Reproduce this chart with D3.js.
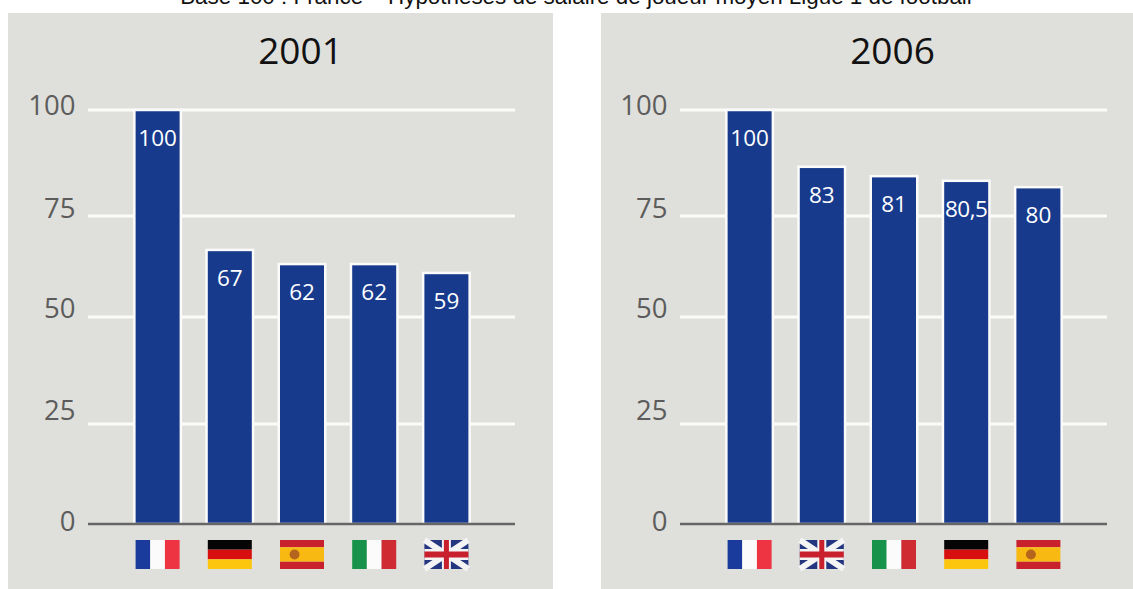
<!DOCTYPE html>
<html><head><meta charset="utf-8">
<script src="https://cdn.jsdelivr.net/npm/d3@7"></script>
<style>html,body{margin:0;background:#fff}svg{display:block}text{font-family:"Open Sans",sans-serif}</style>
</head><body><svg id="c" width="1133" height="589"></svg>
<script>
const heading = "Base 100 : France – Hypothèses de salaire de joueur moyen Ligue 1 de football";
const years = ["2001", "2006"];
const ticks = [0, 25, 50, 75, 100];
const countries2001 = ["fr", "de", "es", "it", "uk"];
const heights2001 = [100, 66.6, 63.1, 63.1, 60.9];
const labels2001 = ["100", "67", "62", "62", "59"];
const countries2006 = ["fr", "uk", "it", "de", "es"];
const heights2006 = [100, 86.6, 84.4, 83.3, 81.8];
const labels2006 = ["100", "83", "81", "80,5", "80"];

const svg = d3.select("#c");
svg.append("text").attr("x", 576).attr("y", 4).attr("text-anchor", "middle")
  .style("font-family", '"Liberation Sans",Arial,sans-serif').style("font-size", "22.4px").attr("fill", "#111").text(heading);

function flag(g, code, w, h) {
  const stripesV = (cols) => cols.forEach((c, i) => g.append("rect").attr("x", i * w / 3).attr("width", w / 3).attr("height", h).attr("fill", c));
  const stripesH = (cols, fr) => { let y = 0; cols.forEach((c, i) => { g.append("rect").attr("y", y).attr("width", w).attr("height", fr[i] * h).attr("fill", c); y += fr[i] * h; }); };
  if (code === "fr") stripesV(["#1a3a9c", "#fbfbfb", "#ee3342"]);
  if (code === "it") stripesV(["#17924a", "#fbfbfb", "#cf2b32"]);
  if (code === "de") stripesH(["#050505", "#d80f0f", "#fbc60d"], [1 / 3, 1 / 3, 1 / 3]);
  if (code === "es") {
    stripesH(["#c8202c", "#f7b912", "#c8202c"], [.25, .5, .25]);
    g.append("circle").attr("cx", w * .33).attr("cy", h / 2).attr("r", h * .17).attr("fill", "#b5651d");
  }
  if (code === "uk") {
    g.append("rect").attr("width", w).attr("height", h).attr("fill", "#23367f");
    const line = (x1, y1, x2, y2, c, sw) => g.append("line").attr("x1", x1).attr("y1", y1).attr("x2", x2).attr("y2", y2).attr("stroke", c).attr("stroke-width", sw);
    line(0, 0, w, h, "#f4f4f4", 6); line(w, 0, 0, h, "#f4f4f4", 6);
    line(w / 2, 0, w / 2, h, "#f4f4f4", 9); line(0, h / 2, w, h / 2, "#f4f4f4", 11);
    line(w / 2, 0, w / 2, h, "#c8202c", 5); line(0, h / 2, w, h / 2, "#c8202c", 6);
  }
}

function panel(px, pw, axisX, year, countries, heights, labels) {
  const g = svg.append("g");
  g.append("rect").attr("x", px).attr("y", 13).attr("width", pw).attr("height", 576).attr("fill", "#dfdfdb");
  const y = d3.scaleLinear().domain(ticks).range([524, 424, 317, 216, 110]);
  const yLabel = d3.scaleLinear().domain(ticks).range([531, 420, 318, 218, 115]);
  const x = d3.scaleBand().domain(d3.range(countries.length)).range([axisX + 33.5, axisX + 33.5 + 72.2 * 5]).paddingInner(.356).paddingOuter(.178);
  g.append("text").attr("x", axisX + 212.5).attr("y", 64).attr("text-anchor", "middle").style("font-size", "37px").attr("fill", "#111").text(year);
  const gridEnd = axisX + 427;
  ticks.forEach(t => {
    if (t > 0) g.append("line").attr("x1", axisX).attr("x2", gridEnd).attr("y1", y(t)).attr("y2", y(t)).attr("stroke", "#fbfbf8").attr("stroke-width", 3);
    g.append("text").attr("x", axisX - 12.5).attr("y", yLabel(t)).attr("text-anchor", "end").style("font-size", "27.5px").attr("fill", "#5c5c5c").text(t);
  });
  g.selectAll(".bar").data(heights).enter().append("rect").attr("class", "bar")
    .attr("x", (d, i) => x(i)).attr("width", x.bandwidth())
    .attr("y", d => y(d)).attr("height", d => y(0) - y(d))
    .attr("fill", "#173a8c").attr("stroke", "#fbfbfb").attr("stroke-width", 2.5);
  g.append("line").attr("x1", axisX).attr("x2", gridEnd).attr("y1", y(0)).attr("y2", y(0)).attr("stroke", "#666").attr("stroke-width", 2.5);
  g.selectAll(".val").data(labels).enter().append("text").attr("class", "val")
    .attr("x", (d, i) => x(i) + x.bandwidth() / 2).attr("y", (d, i) => y(heights[i]) + 36)
    .attr("text-anchor", "middle").style("font-size", "22.5px").style("letter-spacing", d => d.length > 3 ? "-0.5px" : null).attr("fill", "#fff").text(d => d);
  countries.forEach((c, i) => {
    const fg = g.append("g").attr("transform", `translate(${x(i) + x.bandwidth() / 2 - 22},${y(0) + 16})`);
    flag(fg, c, 44, 29);
  });
}
panel(8, 545, 88, years[0], countries2001, heights2001, labels2001);
panel(601, 532, 680, years[1], countries2006, heights2006, labels2006);
</script></body></html>
